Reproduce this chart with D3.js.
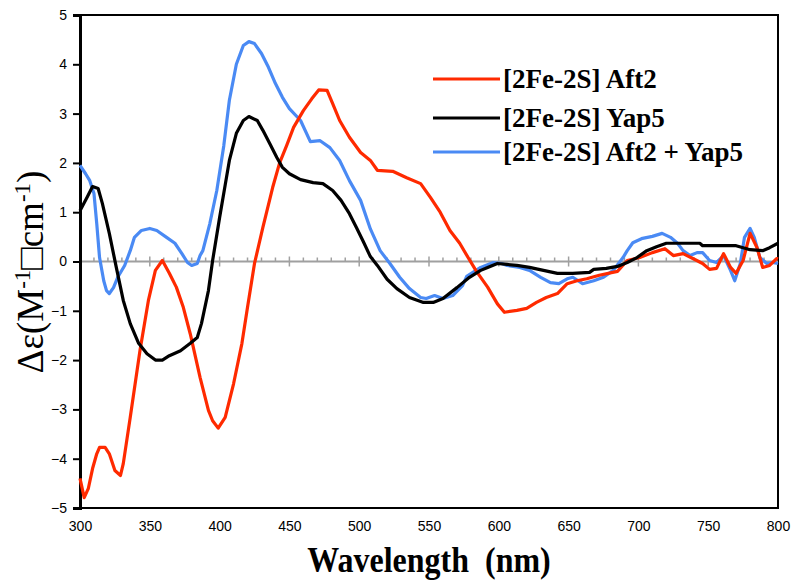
<!DOCTYPE html>
<html>
<head>
<meta charset="utf-8">
<script src="https://cdn.jsdelivr.net/npm/d3@7/dist/d3.min.js"></script>
<style>
  body { margin: 0; background: #fff; }
  svg { display: block; }
</style>
</head>
<body>
<div id="chart"></div>
<script>
// Data (wavelength in nm, delta epsilon)
const aft2Wl = [300,303,306,309,312,314,318,321,325,329,331,336,343,349,354,359,364,369,374,379,386,392,395,399,404,410,416,420,425,431,438,443,448,453,460,466,471,477,481,486,493,501,508,513,524,534,544,551,558,565,572,578,584,592,599,604,613,620,627,634,642,649,656,663,672,685,692,701,710,719,725,732,739,746,751,756,761,766,770,775,780,785,789,794,799,800];
const aft2Val = [-4.40,-4.79,-4.60,-4.20,-3.90,-3.77,-3.77,-3.90,-4.24,-4.34,-4.10,-3.16,-1.80,-0.79,-0.18,0.02,-0.24,-0.52,-0.93,-1.47,-2.35,-3.02,-3.23,-3.38,-3.16,-2.48,-1.66,-0.93,-0.04,0.69,1.50,2.00,2.35,2.72,3.06,3.30,3.48,3.47,3.20,2.86,2.52,2.21,2.05,1.85,1.83,1.70,1.58,1.30,1.00,0.63,0.37,0.08,-0.20,-0.52,-0.86,-1.03,-0.99,-0.95,-0.83,-0.73,-0.65,-0.45,-0.39,-0.35,-0.28,-0.20,0.02,0.08,0.18,0.26,0.12,0.16,0.06,-0.04,-0.16,-0.14,0.16,-0.12,-0.24,0.02,0.57,0.28,-0.12,-0.08,0.06,0.05];

const yap5Wl = [300,305,309,313,316,321,326,331,336,342,348,354,359,364,372,379,384,387,392,395,400,404,407,412,417,421,427,431,436,441,445,450,458,467,474,481,487,493,498,503,508,513,520,527,536,546,553,560,570,579,587,592,599,606,613,622,632,642,653,665,668,677,685,692,699,706,713,720,744,746,770,780,789,794,800];
const yap5Val = [1.03,1.30,1.52,1.48,1.18,0.57,-0.12,-0.79,-1.26,-1.66,-1.87,-2.00,-2.00,-1.91,-1.81,-1.66,-1.54,-1.26,-0.59,0.02,0.89,1.55,2.05,2.60,2.86,2.94,2.86,2.66,2.39,2.11,1.91,1.78,1.66,1.60,1.58,1.44,1.24,0.97,0.69,0.40,0.10,-0.08,-0.36,-0.55,-0.73,-0.83,-0.83,-0.75,-0.53,-0.32,-0.18,-0.12,-0.04,-0.06,-0.08,-0.12,-0.18,-0.24,-0.24,-0.22,-0.16,-0.14,-0.10,-0.02,0.08,0.22,0.30,0.37,0.37,0.32,0.32,0.24,0.22,0.28,0.37];

const bothWl = [300,304,307,310,312,314,317,319,321,324,327,332,336,339,344,350,355,362,368,373,377,380,384,386,388,393,398,403,407,412,417,421,425,430,435,440,445,450,458,465,472,479,486,493,501,508,515,522,529,536,544,548,554,560,567,574,577,587,596,602,606,615,622,630,637,643,649,653,660,668,675,682,689,692,696,703,710,717,723,728,732,737,742,746,751,756,761,766,769,773,776,780,783,787,792,796,800];
const bothVal = [1.95,1.78,1.64,1.38,0.77,0.08,-0.39,-0.59,-0.65,-0.53,-0.32,-0.08,0.22,0.49,0.63,0.67,0.63,0.49,0.37,0.16,-0.02,-0.08,-0.04,0.12,0.22,0.77,1.44,2.35,3.27,4.00,4.38,4.46,4.42,4.22,3.94,3.61,3.33,3.10,2.86,2.43,2.45,2.31,2.05,1.64,1.24,0.66,0.22,-0.04,-0.32,-0.55,-0.73,-0.75,-0.69,-0.75,-0.69,-0.49,-0.30,-0.12,-0.02,-0.04,-0.08,-0.12,-0.18,-0.32,-0.43,-0.45,-0.35,-0.32,-0.45,-0.39,-0.32,-0.18,0.08,0.22,0.38,0.47,0.51,0.57,0.49,0.37,0.22,0.12,0.18,0.18,0.02,-0.02,0.12,-0.18,-0.39,-0.04,0.49,0.67,0.49,0.08,-0.04,-0.02,-0.04];

const seriesNames = ['[2Fe-2S] Aft2', '[2Fe-2S] Yap5', '[2Fe-2S] Aft2 + Yap5'];
const seriesColors = ['#ff2a00', '#000000', '#4a8af4'];
const xTicks = [300, 350, 400, 450, 500, 550, 600, 650, 700, 750, 800];
const yTicks = [-5, -4, -3, -2, -1, 0, 1, 2, 3, 4, 5];

const W = 791, H = 583;
const plot = { left: 80, right: 778, top: 15, bottom: 508 };

const svg = d3.select('#chart').append('svg')
  .attr('width', W)
  .attr('height', H);

const x = d3.scaleLinear().domain([300, 800]).range([plot.left, plot.right]);
const y = d3.scaleLinear().domain([-5, 5]).range([plot.bottom, plot.top]);

// frame
svg.append('rect')
  .attr('x', plot.left).attr('y', plot.top)
  .attr('width', plot.right - plot.left).attr('height', plot.bottom - plot.top)
  .attr('fill', 'none').attr('stroke', '#000').attr('stroke-width', 2);

// zero line with minor/major ticks
svg.append('line')
  .attr('x1', plot.left).attr('x2', plot.right)
  .attr('y1', y(0)).attr('y2', y(0))
  .attr('stroke', '#a0a0a0').attr('stroke-width', 2);
const minor = d3.range(310, 800, 10);
svg.append('g').selectAll('line').data(minor).join('line')
  .attr('x1', d => x(d)).attr('x2', d => x(d))
  .attr('y1', d => d % 50 === 0 ? y(0) - 5 : y(0) - 4)
  .attr('y2', d => d % 50 === 0 ? y(0) + 5 : y(0))
  .attr('stroke', '#a0a0a0').attr('stroke-width', 1.5);

// y axis
const yAxis = svg.append('g')
  .attr('transform', `translate(${plot.left},0)`)
  .call(d3.axisLeft(y).tickValues(yTicks).tickSize(7).tickPadding(6).tickFormat(d3.format('d')));
yAxis.select('.domain').attr('stroke-width', 3);
yAxis.selectAll('.tick line').attr('stroke-width', 2);
yAxis.selectAll('text')
  .attr('font-family', '"Liberation Sans Narrow", "Liberation Sans", Arial, sans-serif')
  .attr('font-size', 14).attr('fill', '#000');

// x axis (labels only)
const xAxis = svg.append('g')
  .attr('transform', `translate(0,${plot.bottom})`)
  .call(d3.axisBottom(x).tickValues(xTicks).tickSize(0).tickPadding(13));
xAxis.select('.domain').remove();
xAxis.selectAll('text')
  .attr('font-family', '"Liberation Sans Narrow", "Liberation Sans", Arial, sans-serif')
  .attr('font-size', 14).attr('fill', '#000');

// lines
const line = d3.line().x(d => x(d[0])).y(d => y(d[1]));
const series = [
  d3.zip(aft2Wl, aft2Val),
  d3.zip(yap5Wl, yap5Val),
  d3.zip(bothWl, bothVal)
];
const drawOrder = [2, 0, 1];
drawOrder.forEach(i => {
  svg.append('path')
    .datum(series[i])
    .attr('fill', 'none')
    .attr('stroke', seriesColors[i])
    .attr('stroke-width', 3.2)
    .attr('stroke-linejoin', 'round')
    .attr('d', line);
});

// legend
const legendY = [79, 118, 152];
const legend = svg.append('g');
seriesNames.forEach((name, i) => {
  legend.append('line')
    .attr('x1', 433).attr('x2', 500)
    .attr('y1', legendY[i]).attr('y2', legendY[i])
    .attr('stroke', seriesColors[i]).attr('stroke-width', 3);
  legend.append('text')
    .attr('x', 503).attr('y', legendY[i] + 9)
    .attr('font-family', '"Liberation Serif", "Times New Roman", serif')
    .attr('font-weight', 'bold').attr('font-size', 27)
    .text(name);
});

// axis titles
svg.append('text')
  .attr('transform', 'translate(429,572) scale(1,1.12)')
  .attr('text-anchor', 'middle')
  .attr('font-family', '"Liberation Serif", "Times New Roman", serif')
  .attr('font-weight', 'bold').attr('font-size', 32)
  .attr('xml:space', 'preserve')
  .text('Wavelength  (nm)');

const yt = svg.append('text')
  .attr('transform', 'translate(43,272) rotate(-90)')
  .attr('text-anchor', 'middle')
  .attr('font-family', '"Liberation Serif", "Times New Roman", serif')
  .attr('font-size', 37);
yt.append('tspan').text('\u0394\u03b5(M');
yt.append('tspan').attr('dy', -13).attr('font-size', 23).text('-1');
yt.append('tspan').attr('dy', 13).text('\u25a1cm');
yt.append('tspan').attr('dy', -13).attr('font-size', 23).text('-1');
yt.append('tspan').attr('dy', 13).text(')');
</script>
</body>
</html>
